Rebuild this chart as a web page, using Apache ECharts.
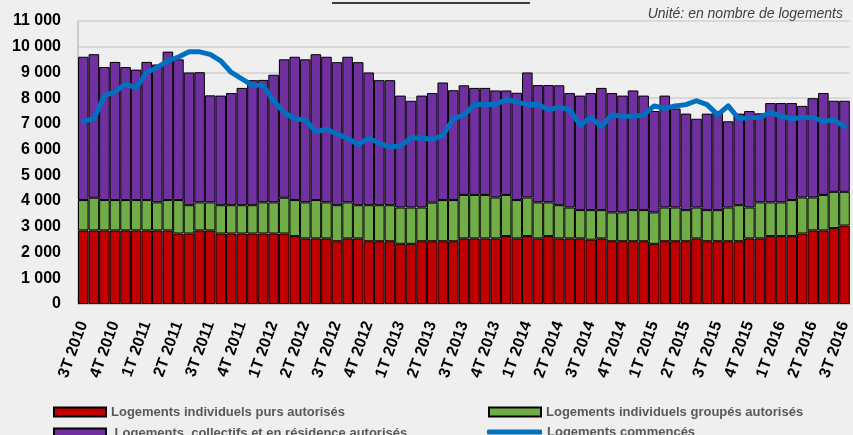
<!DOCTYPE html>
<html>
<head>
<meta charset="utf-8">
<script src="https://cdn.jsdelivr.net/npm/echarts@6/dist/echarts.min.js"></script>
<style>
  html, body { margin: 0; padding: 0; background: #efefef; }
  #chart { width: 853px; height: 435px; }
</style>
</head>
<body>
<div id="chart"></div>
<script>
// libellés trimestriels (un mois sur trois)
const quarters = [
  "3T 2010", "4T 2010", "1T 2011", "2T 2011", "3T 2011", "4T 2011",
  "1T 2012", "2T 2012", "3T 2012", "4T 2012", "1T 2013", "2T 2013",
  "3T 2013", "4T 2013", "1T 2014", "2T 2014", "3T 2014", "4T 2014",
  "1T 2015", "2T 2015", "3T 2015", "4T 2015", "1T 2016", "2T 2016",
  "3T 2016"
];
const nbMonths = 73;

// logements individuels purs autorisés
const purs = [
  2860, 2860, 2860, 2860, 2860, 2860, 2860, 2860, 2860, 2740,
  2740, 2860, 2860, 2740, 2740, 2740, 2740, 2740, 2740, 2740,
  2640, 2550, 2550, 2550, 2440, 2550, 2550, 2440, 2440, 2440,
  2340, 2340, 2440, 2440, 2440, 2440, 2550, 2550, 2550, 2550,
  2640, 2550, 2640, 2550, 2640, 2550, 2550, 2550, 2500, 2550,
  2440, 2440, 2440, 2440, 2340, 2440, 2440, 2440, 2550, 2440,
  2440, 2440, 2440, 2550, 2550, 2640, 2640, 2640, 2740, 2860,
  2860, 2950, 3050
];
// logements individuels groupés autorisés
const groupes = [
  1180, 1270, 1180, 1180, 1180, 1180, 1180, 1090, 1180, 1300,
  1100, 1090, 1090, 1100, 1100, 1100, 1100, 1210, 1210, 1390,
  1400, 1400, 1490, 1400, 1400, 1400, 1290, 1400, 1400, 1400,
  1410, 1410, 1310, 1500, 1600, 1600, 1690, 1690, 1690, 1590,
  1600, 1490, 1500, 1400, 1310, 1290, 1200, 1100, 1150, 1100,
  1120, 1120, 1210, 1210, 1220, 1310, 1310, 1210, 1200, 1210,
  1210, 1310, 1400, 1200, 1400, 1310, 1310, 1400, 1400, 1280,
  1380, 1410, 1310
];
// logements collectifs et en résidence autorisés
const collectifs = [
  5570, 5580, 5170, 5370, 5170, 5070, 5370, 5360, 5770, 5470,
  5160, 5060, 4160, 4260, 4360, 4560, 4860, 4760, 4960, 5380,
  5570, 5560, 5670, 5660, 5560, 5660, 5560, 5160, 4860, 4860,
  4350, 4150, 4350, 4260, 4570, 4270, 4260, 4160, 4160, 4160,
  4060, 4170, 4860, 4560, 4560, 4660, 4450, 4450, 4550, 4750,
  4640, 4540, 4650, 4450, 3940, 4350, 3850, 3750, 3450, 3750,
  3850, 3350, 3560, 3750, 3460, 3860, 3860, 3770, 3560, 3860,
  3960, 3540, 3540
];
// logements commencés
const commences = [
  7100, 7200, 8100, 8250, 8550, 8400, 9000, 9200, 9450, 9600,
  9800, 9800, 9700, 9450, 9000, 8750, 8500, 8500, 7900, 7450,
  7200, 7150, 6700, 6800, 6600, 6450, 6200, 6450, 6250, 6100,
  6150, 6450, 6450, 6400, 6550, 7200, 7350, 7750, 7750, 7750,
  7950, 7850, 7750, 7750, 7550, 7650, 7550, 6950, 7250, 6900,
  7350, 7300, 7300, 7350, 7700, 7600, 7700, 7750, 7900, 7750,
  7350, 7700, 7200, 7250, 7250, 7450, 7300, 7200, 7250, 7250,
  7100, 7150, 6900
];

const namePurs = "Logements individuels purs autorisés";
const nameGroupes = "Logements individuels groupés autorisés";
const nameCollectifs = " Logements  collectifs et en résidence autorisés";
const nameCommences = "Logements commencés";

let months = [];
for (let i = 0; i < nbMonths; i++) {
  months.push(quarters[Math.floor(i / 3)]);
}

const font = "Liberation Sans";
let chart = echarts.init(document.getElementById("chart"));

const barStyle = (color) => ({
  color: color,
  borderColor: "#000000",
  borderWidth: 1,
});

// une légende par élément pour placer les 4 entrées sur 2 colonnes
const legendItem = (name, left, top, extra) =>
  Object.assign(
    {
      left: left,
      top: top,
      itemWidth: 52,
      itemHeight: 9,
      icon: "rect",
      data: [name],
      textStyle: { fontFamily: font, fontWeight: "bold", fontSize: 13, color: "#595959", lineHeight: 14 },
    },
    extra || {}
  );

chart.setOption({
  backgroundColor: "#efefef",
  animation: false,
  textStyle: { fontFamily: font },
  title: {
    text: "Unité: en nombre de logements",
    right: 5,
    top: 2,
    textStyle: {
      fontFamily: font,
      fontStyle: "italic",
      fontWeight: "normal",
      fontSize: 14,
      color: "#404040",
    },
  },
  graphic: [
    {
      type: "line",
      shape: { x1: 332, y1: 3, x2: 530, y2: 3 },
      style: { stroke: "#000000", lineWidth: 1.5 },
    },
  ],
  legend: [
    legendItem(namePurs, 48, 400),
    legendItem(nameCollectifs, 48, 421),
    legendItem(nameGroupes, 483, 400),
    legendItem(nameCommences, 482, 420, {
      itemWidth: 55,
      itemHeight: 5,
      data: [{ name: nameCommences, icon: "roundRect" }],
    }),
  ],
  grid: { left: 78, right: -4, top: 21, bottom: 131 },
  xAxis: {
    type: "category",
    data: months,
    axisLine: { lineStyle: { color: "#bfbfbf", width: 1.5 } },
    axisTick: { show: false },
    axisLabel: {
      interval: 2,
      rotate: 70,
      margin: 18,
      fontFamily: font,
      fontWeight: "bold",
      fontSize: 16,
      color: "#000000",
    },
  },
  yAxis: {
    type: "value",
    min: 0,
    max: 11000,
    interval: 1000,
    axisLine: { show: true, lineStyle: { color: "#bfbfbf", width: 1.5 } },
    axisTick: { show: false },
    splitLine: { lineStyle: { color: "#d9d9d9", width: 2 } },
    axisLabel: {
      margin: 17,
      fontFamily: font,
      fontWeight: "bold",
      fontSize: 16,
      color: "#000000",
      formatter: (v) => String(v).replace(/\B(?=(\d{3})+(?!\d))/g, " "),
    },
  },
  series: [
    {
      name: namePurs,
      type: "bar",
      stack: "autorises",
      barCategoryGap: "0%",
      itemStyle: barStyle("#c00000"),
      data: purs,
    },
    {
      name: nameGroupes,
      type: "bar",
      stack: "autorises",
      itemStyle: barStyle("#70ad47"),
      data: groupes,
    },
    {
      name: nameCollectifs,
      type: "bar",
      stack: "autorises",
      itemStyle: barStyle("#7030a0"),
      data: collectifs,
    },
    {
      name: nameCommences,
      type: "line",
      symbol: "none",
      z: 5,
      lineStyle: { color: "#0070c0", width: 5, cap: "round", join: "round" },
      itemStyle: { color: "#0070c0" },
      data: commences,
    },
  ],
});
</script>
</body>
</html>
